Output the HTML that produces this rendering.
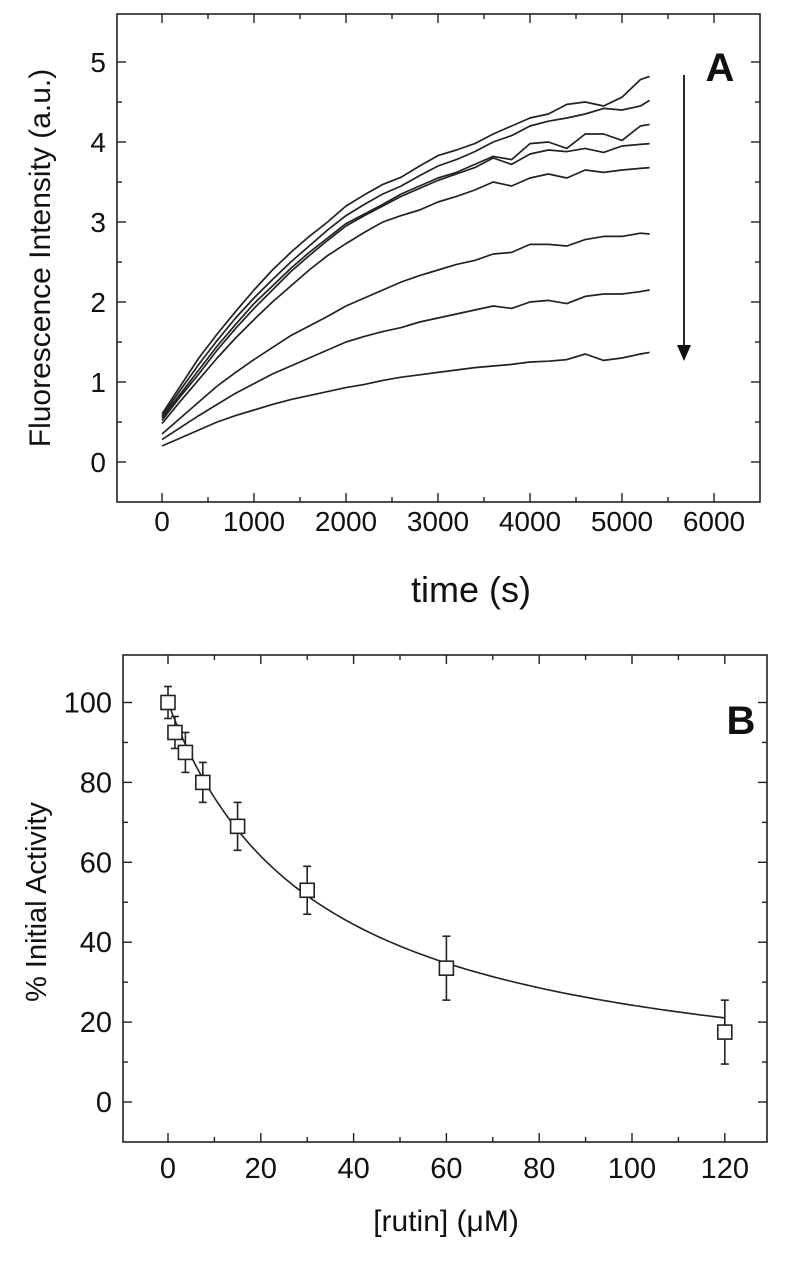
<!DOCTYPE html>
<html><head><meta charset="utf-8"><style>
body{margin:0;background:#fff}
svg{display:block;font-family:"Liberation Sans",Arial,sans-serif}
</style></head><body>
<svg id="s" width="794" height="1262" viewBox="0 0 794 1262"></svg>
<script>
const NS="http://www.w3.org/2000/svg";
const svg=document.getElementById('s');
// Panel A data
const timesA=[0,200,400,600,800,1000,1200,1400,1600,1800,2000,2200,2400,2600,2800,3000,3200,3400,3600,3800,4000,4200,4400,4600,4800,5000,5200,5300];
const curve1=[0.6,0.95,1.3,1.6,1.88,2.15,2.4,2.62,2.82,3.0,3.2,3.34,3.47,3.56,3.7,3.83,3.9,3.98,4.1,4.2,4.3,4.35,4.47,4.5,4.45,4.56,4.78,4.82];
const curve2=[0.57,0.9,1.22,1.52,1.8,2.05,2.28,2.5,2.7,2.9,3.08,3.22,3.35,3.45,3.58,3.7,3.78,3.88,4.0,4.08,4.2,4.26,4.3,4.35,4.42,4.4,4.45,4.52];
const curve3=[0.55,0.85,1.15,1.45,1.72,1.98,2.2,2.42,2.62,2.8,2.98,3.1,3.22,3.35,3.45,3.55,3.62,3.72,3.82,3.78,3.98,4.0,3.92,4.1,4.1,4.02,4.2,4.22];
const curve4=[0.52,0.82,1.1,1.4,1.67,1.92,2.15,2.38,2.58,2.77,2.95,3.08,3.2,3.32,3.42,3.52,3.6,3.68,3.8,3.72,3.85,3.9,3.88,3.92,3.87,3.95,3.97,3.98];
const curve5=[0.48,0.76,1.03,1.3,1.55,1.78,2.0,2.2,2.4,2.58,2.73,2.87,3.0,3.08,3.15,3.25,3.32,3.4,3.5,3.45,3.55,3.6,3.55,3.65,3.62,3.65,3.67,3.68];
const curve6=[0.35,0.55,0.75,0.95,1.12,1.28,1.43,1.58,1.7,1.82,1.95,2.05,2.15,2.25,2.33,2.4,2.47,2.52,2.6,2.62,2.72,2.72,2.7,2.78,2.82,2.82,2.86,2.85];
const curve7=[0.28,0.43,0.58,0.72,0.86,0.98,1.1,1.2,1.3,1.4,1.5,1.57,1.63,1.68,1.75,1.8,1.85,1.9,1.95,1.92,2.0,2.02,1.98,2.07,2.1,2.1,2.13,2.15];
const curve8=[0.2,0.3,0.4,0.5,0.58,0.65,0.72,0.78,0.83,0.88,0.93,0.97,1.02,1.06,1.09,1.12,1.15,1.18,1.2,1.22,1.25,1.26,1.28,1.35,1.27,1.3,1.35,1.37];
const xTicksA=[0,1000,2000,3000,4000,5000,6000];
const yTicksA=[0,1,2,3,4,5];
// Panel B data
const rutinX=[0,1.5,3.75,7.5,15,30,60,120];
const activityY=[100,92.5,87.5,80,69,53,33.5,17.5];
const activityErr=[4,4,5,5,6,6,8,8];
const fitIC50=[32];
const xTicksB=[0,20,40,60,80,100,120];
const yTicksB=[0,20,40,60,80,100];

function el(tag,attrs,parent){const e=document.createElementNS(NS,tag);for(const k in attrs)e.setAttribute(k,attrs[k]);(parent||svg).appendChild(e);return e;}

const AX=v=>162+(v)*0.092, AY=v=>462-v*80;
const BX=v=>168+v*4.64, BY=v=>1102-v*3.995;

function frame(x0,y0,x1,y1,name){const r=el('rect',{x:x0,y:y0,width:x1-x0,height:y1-y0,fill:'none',stroke:'#222','stroke-width':1.6});}
frame(117,14,760,502,'plot-frame-a');
frame(123,655,767,1142,'plot-frame-b');

function ticks(xt,yt,fx,fy,x0,y0,x1,y1,xminor,yminor,pre){
  const g=el('g',{stroke:'#222','stroke-width':1.4});
  
  xt.forEach(v=>{const x=fx(v);el('line',{x1:x,x2:x,y1:y1,y2:y1-9},g);el('line',{x1:x,x2:x,y1:y0,y2:y0+9},g);});
  xminor.forEach(v=>{const x=fx(v);el('line',{x1:x,x2:x,y1:y1,y2:y1-5},g);el('line',{x1:x,x2:x,y1:y0,y2:y0+5},g);});
  yt.forEach(v=>{const y=fy(v);el('line',{x1:x0,x2:x0+9,y1:y,y2:y},g);el('line',{x1:x1,x2:x1-9,y1:y,y2:y},g);});
  yminor.forEach(v=>{const y=fy(v);el('line',{x1:x0,x2:x0+5,y1:y,y2:y},g);el('line',{x1:x1,x2:x1-5,y1:y,y2:y},g);});
}
ticks(xTicksA,yTicksA,AX,AY,117,14,760,502,[500,1500,2500,3500,4500,5500],[0.5,1.5,2.5,3.5,4.5],'axis-a-');
ticks(xTicksB,yTicksB,BX,BY,123,655,767,1142,[10,30,50,70,90,110],[10,30,50,70,90],'axis-b-');

function txt(s,x,y,size,anchor,name,extra){const t=el('text',Object.assign({x:x,y:y,'font-size':size,'text-anchor':anchor,fill:'#111'},extra||{}));t.textContent=s;return t;}
xTicksA.forEach(v=>txt(String(v),AX(v),531,28,'middle','x-tick-label-a'));
yTicksA.forEach(v=>txt(String(v),106,AY(v)+10,28,'end','y-tick-label-a'));
xTicksB.forEach(v=>txt(String(v),BX(v),1178,29,'middle','x-tick-label-b'));
yTicksB.forEach(v=>txt(String(v),112,BY(v)+10,29,'end','y-tick-label-b'));
txt('time (s)',471,602,36,'middle','x-axis-title-a');
txt('Fluorescence Intensity (a.u.)',0,0,30,'middle','y-axis-title-a',{transform:'translate(50,258) rotate(-90)'});
txt('[rutin] (\u03bcM)',446,1231,30,'middle','x-axis-title-b');
txt('% Initial Activity',0,0,29,'middle','y-axis-title-b',{transform:'translate(46,902) rotate(-90)'});
txt('A',720,81,40,'middle','panel-label-a',{'font-weight':'bold'});
txt('B',741,734,40,'middle','panel-label-b',{'font-weight':'bold'});

[curve1,curve2,curve3,curve4,curve5,curve6,curve7,curve8].forEach((c,i)=>{
  const p=el('polyline',{points:c.map((v,j)=>AX(timesA[j])+','+AY(v)).join(' '),fill:'none',stroke:'#222','stroke-width':1.7,'stroke-linejoin':'round'});
  
  
});
const ar=el('g',{});


el('line',{x1:684,y1:75,x2:684,y2:350,stroke:'#111','stroke-width':1.8},ar);
el('polygon',{points:'677,345 691,345 684,361',fill:'#111'},ar);

const ic=fitIC50[0];let pts=[];
for(let i=0;i<=120;i++){const x=rutinX[0]+i*(rutinX[rutinX.length-1]-rutinX[0])/120;pts.push(BX(x)+','+BY(100/(1+x/ic)));}
const fit=el('polyline',{points:pts.join(' '),fill:'none',stroke:'#222','stroke-width':1.6});


rutinX.forEach((x,i)=>{
  const g=el('g',{stroke:'#222','stroke-width':1.6});
  
  
  const cx=BX(x),cy=BY(activityY[i]),t=BY(activityY[i]+activityErr[i]),b=BY(activityY[i]-activityErr[i]);
  el('line',{x1:cx,x2:cx,y1:t,y2:b},g);
  el('line',{x1:cx-4,x2:cx+4,y1:t,y2:t},g);
  el('line',{x1:cx-4,x2:cx+4,y1:b,y2:b},g);
  el('rect',{x:cx-7,y:cy-7,width:14,height:14,fill:'#fff'},g);
});
</script>
</body></html>
